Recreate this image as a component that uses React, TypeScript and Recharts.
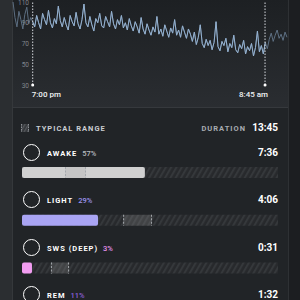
import React from "react";
import {
  LineChart,
  Line,
  XAxis,
  YAxis,
  ReferenceLine,
  ReferenceDot,
  BarChart,
  Bar,
  Cell,
} from "recharts";

// heart rate samples, every 7 min starting 70 min before 7:00 pm
const hrStart = -70;
const hrStep = 7;
const heartRate = [
  110, 95, 86, 101, 93, 84, 98, 105, 89, 95,
  91, 86, 97, 90, 84, 99, 93, 88, 102, 90,
  85, 94, 89, 106, 92, 86, 95, 88, 83, 97,
  91, 87, 100, 89, 84, 93, 108, 90, 86, 96,
  88, 82, 94, 90, 99, 87, 85, 96, 91, 86,
  101, 89, 84, 93, 88, 97, 85, 90, 83, 94,
  87, 82, 91, 86, 80, 95, 84, 79, 89, 83,
  78, 86, 81, 96, 79, 84, 77, 88, 82, 76,
  85, 80, 93, 78, 83, 76, 87, 81, 75, 84,
  79, 72, 81, 69, 76, 88, 70, 66, 74, 68,
  73, 64, 71, 91, 67, 63, 72, 68, 75, 62,
  70, 66, 78, 64, 61, 69, 65, 73, 60, 67,
  63, 70, 58, 66, 82, 62, 68, 60, 71, 65,
  74, 80, 72, 78, 83, 75, 79, 73, 81, 76,
];
const sleepStart = 0; // 7:00 pm
const sleepEnd = 825; // 8:45 am
const timeLabels = ["7:00 pm", "8:45 am"];
const hrTicks = [30, 50, 70, 90, 110];

const stages = ["AWAKE", "LIGHT", "SWS (DEEP)", "REM"];
const stagePct = ["57%", "29%", "3%", "11%"];
const stageDur = ["7:36", "4:06", "0:31", "1:32"];
const stageBar = [48, 29.7, 3.9, 12]; // % of track
const typicalLo = [16.8, 39.5, 11.3, 20];
const typicalHi = [25, 50.8, 18.4, 30];
const stageColor = ["#d0d0d0", "#a9a4f3", "#f29df1", "#8f63dc"];
const pctColor = ["#b9bcc0", "#9d95ee", "#e391ea", "#8a5fd8"];
const totalDuration = "13:45";

const hrData = heartRate.map((v, i) => {
  const t = hrStart + i * hrStep;
  return { t, all: v, hr: t >= sleepStart && t <= sleepEnd + 1 ? v : null };
});

const stageData = stages.map((name, i) => ({
  name,
  fill: stageBar[i],
  typical: [typicalLo[i], typicalHi[i]],
}));

const FONT = "Roboto, 'DejaVu Sans', sans-serif";
const ROW_Y = [153, 200, 248, 295];

function TimeTick(props: any) {
  const { x, payload } = props;
  const first = payload.value === sleepStart;
  return (
    <text
      x={first ? x - 1 : x + 3}
      y={97}
      textAnchor={first ? "start" : "end"}
      fontSize={8}
      fontWeight={500}
      fill="#f0f2f4"
      fontFamily={FONT}
    >
      {first ? timeLabels[0] : timeLabels[1]}
    </text>
  );
}

function HrTick(props: any) {
  const { y, payload } = props;
  return (
    <text x={29} y={y} dy={2.5} textAnchor="end" fontSize={6.5} fill="#80858b" fontFamily={FONT}>
      {payload.value}
    </text>
  );
}

function TypicalBox(props: any) {
  const { x, y, width, height } = props;
  return (
    <g>
      <rect x={x} y={y} width={width} height={height} fill="rgba(160,160,160,0.22)" />
      <line x1={x + 0.5} x2={x + 0.5} y1={y} y2={y + height} stroke="#a4a8ad" strokeDasharray="2 1.5" />
      <line x1={x + width - 0.5} x2={x + width - 0.5} y1={y} y2={y + height} stroke="#a4a8ad" strokeDasharray="2 1.5" />
    </g>
  );
}

const label = (extra: React.CSSProperties): React.CSSProperties => ({
  position: "absolute",
  transform: "translateY(-50%)",
  lineHeight: 1,
  fontFamily: FONT,
  whiteSpace: "nowrap",
  ...extra,
});

export default function App() {
  return (
    <div
      style={{
        position: "fixed",
        left: 0,
        top: 0,
        width: 300,
        height: 300,
        overflow: "hidden",
        background: "#212427",
      }}
    >
      {/* side panels */}
      <div style={{ position: "absolute", left: 0, top: 0, width: 12, height: 300, background: "#2b2e31", borderRight: "1px solid #35383b" }} />
      <div style={{ position: "absolute", left: 288, top: 0, width: 12, height: 300, background: "#1c1e21", borderLeft: "1px solid #2e3134" }} />
      <div
        style={{
          position: "absolute",
          left: 13,
          top: 0,
          width: 275,
          height: 107,
          background: "linear-gradient(#1d2023, #2a2d31)",
        }}
      />
      <div style={{ position: "absolute", left: 12, top: 107, width: 276, height: 1, background: "#36393d" }} />

      <div style={{ position: "absolute", left: 0, top: 0 }}>
        <LineChart width={300} height={107} data={hrData} margin={{ top: 2, right: 13, left: -7, bottom: 2 }}>
          <XAxis
            type="number"
            dataKey="t"
            domain={[hrStart, hrStart + hrStep * (heartRate.length - 1)]}
            ticks={[sleepStart, sleepEnd]}
            axisLine={false}
            tickLine={false}
            height={20}
            tick={<TimeTick />}
            interval={0}
          />
          <YAxis
            domain={[30, 110]}
            ticks={hrTicks}
            width={20}
            axisLine={false}
            tickLine={false}
            tick={<HrTick />}
            interval={0}
          />
          <Line dataKey="all" stroke="#5d6f82" strokeWidth={1} dot={false} isAnimationActive={false} />
          <Line dataKey="hr" stroke="#94b1d0" strokeWidth={1} dot={false} isAnimationActive={false} />
          <ReferenceLine x={sleepStart} stroke="#d6dadf" strokeDasharray="1.5 1.5" />
          <ReferenceLine x={sleepEnd} stroke="#d6dadf" strokeDasharray="1.5 1.5" />
          <ReferenceDot x={sleepStart} y={30} r={1.5} fill="#ffffff" stroke="none" />
          <ReferenceDot x={sleepEnd} y={30} r={1.5} fill="#ffffff" stroke="none" />
        </LineChart>
      </div>

      {/* typical range legend */}
      <svg style={{ position: "absolute", left: 21, top: 124 }} width={8} height={8}>
        <defs>
          <pattern id="hatchIcon" width="3" height="3" patternUnits="userSpaceOnUse" patternTransform="rotate(30)">
            <rect width="3" height="3" fill="#33363a" />
            <rect width="1.3" height="3" fill="#55585c" />
          </pattern>
        </defs>
        <rect width={8} height={8} fill="url(#hatchIcon)" />
        <line x1={0.5} x2={0.5} y1={0} y2={8} stroke="#8c9095" strokeDasharray="1.5 1" />
        <line x1={7.5} x2={7.5} y1={0} y2={8} stroke="#8c9095" strokeDasharray="1.5 1" />
      </svg>
      <div style={label({ left: 36, top: 128.5, fontSize: 7.5, fontWeight: 700, letterSpacing: 1, color: "#c9cdd1" })}>
        TYPICAL RANGE
      </div>
      <div style={label({ right: 54, top: 128.5, fontSize: 7.5, fontWeight: 700, letterSpacing: 1, color: "#a8acb1" })}>
        DURATION
      </div>
      <div style={label({ right: 22, top: 128, fontSize: 10, fontWeight: 700, color: "#ffffff" })}>
        {totalDuration}
      </div>

      {stages.map((s, i) => (
        <React.Fragment key={s}>
          <div
            style={{
              position: "absolute",
              left: 23,
              top: ROW_Y[i] - 9,
              width: 15,
              height: 15,
              borderRadius: "50%",
              border: "1.5px solid #ffffff",
            }}
          />
          <div style={label({ left: 47, top: ROW_Y[i] + 0.5, fontSize: 7.5, fontWeight: 700, letterSpacing: 1, color: "#ffffff" })}>
            {s}
            <span style={{ marginLeft: 5, letterSpacing: 0, fontWeight: 500, color: pctColor[i] }}>{stagePct[i]}</span>
          </div>
          <div style={label({ right: 22, top: ROW_Y[i], fontSize: 10, fontWeight: 700, color: "#ffffff" })}>
            {stageDur[i]}
          </div>
        </React.Fragment>
      ))}

      <div style={{ position: "absolute", left: 0, top: 149 }}>
        <BarChart
          width={300}
          height={191}
          data={stageData}
          layout="vertical"
          margin={{ top: 0, right: 22, left: 22, bottom: 0 }}
        >
          <defs>
            <pattern id="hatch" width="4.6" height="4.6" patternUnits="userSpaceOnUse" patternTransform="rotate(30)">
              <rect width="4.6" height="4.6" fill="#27292c" />
              <rect width="2" height="4.6" fill="#35383b" />
            </pattern>
          </defs>
          <XAxis type="number" domain={[0, 100]} hide />
          <YAxis yAxisId="v" type="category" dataKey="name" hide />
          <YAxis yAxisId="r" type="category" dataKey="name" hide />
          <Bar
            yAxisId="v"
            dataKey="fill"
            barSize={11}
            radius={2}
            background={{ fill: "url(#hatch)" }}
            isAnimationActive={false}
          >
            {stageData.map((d, i) => (
              <Cell key={d.name} fill={stageColor[i]} />
            ))}
          </Bar>
          <Bar yAxisId="r" dataKey="typical" barSize={11} shape={<TypicalBox />} isAnimationActive={false} />
        </BarChart>
      </div>
    </div>
  );
}
